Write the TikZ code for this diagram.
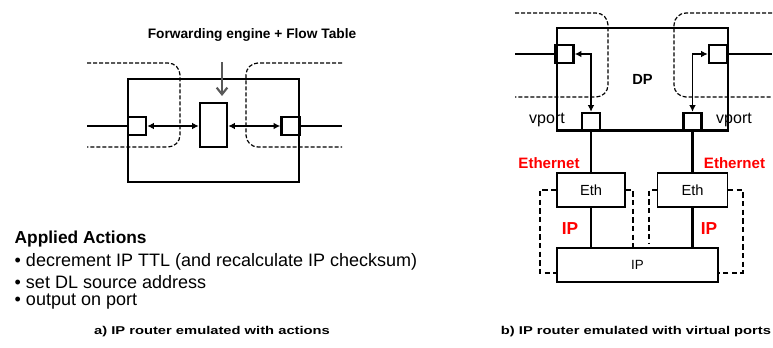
\documentclass[tikz,border=0pt]{standalone}
\usepackage{fontspec}
\setmainfont{Liberation Sans}
\newfontfamily\widefont[FakeStretch=1.3]{Liberation Sans}
\usepackage{xcolor}
\usetikzlibrary{arrows.meta,positioning}

\begin{document}
\begin{tikzpicture}[x=0.75pt, y=-0.75pt,
  every node/.style={font=\small},
  box/.style={draw, line width=0.8pt, inner sep=0pt},
  port/.style={draw, line width=1.8pt, minimum size=13.5pt, inner sep=0pt},
  link/.style={line width=2.2pt},
  dline/.style={dash pattern=on 3pt off 1.5pt, line width=0.9pt, rounded corners=9pt},
  tunnel/.style={dash pattern=on 4pt off 2.5pt, line width=1.5pt},
  rel/.style={{Latex[length=5pt,width=5pt]}-{Latex[length=5pt,width=5pt]}, line width=1pt},
  redlbl/.style={font=\bfseries\fontsize{11.3}{13}\selectfont, text=red},
  caption/.style={font=\widefont\bfseries\fontsize{8.5}{10}\selectfont},
  item/.style={anchor=west, font=\fontsize{13.5}{16}\selectfont}
]
\useasboundingbox (0,0) rectangle (773,347);

% a) router with actions
\node[font=\bfseries\fontsize{10.3}{12}\selectfont] (fetitle) at (252,35) {Forwarding engine + Flow Table};
\node[box, minimum width=128.25pt, minimum height=77.25pt] (router) at (213.5,130.5) {};
\node[port] (pl) at (137,126) {};
\node[port] (pr) at (290.5,126) {};
\node[draw, line width=1.8pt, minimum width=20.25pt, minimum height=33pt, inner sep=0pt] (fe) at (213.5,125) {};
\coordinate (fein) at (222,62);
\coordinate (feto) at (222,96);
\coordinate (inl) at (87,126);
\coordinate (outr) at (342,126);

\draw[-{Straight Barb[length=5pt,width=8pt]}, black!65, line width=1.6pt] (fein) -- (feto);
\draw[link] (inl) -- (pl);
\draw[link] (pr) -- (outr);
\draw[rel] (pl.east) -- (pl.east -| fe.west);
\draw[rel] (fe.east |- pr.west) -- (pr.west);

% flow paths
\draw[dline] (87,63) -- (180,63) -- (180,147) -- (87,147);
\draw[dline] (342,63) -- (246,63) -- (246,147) -- (342,147);

% actions
\node[item, font=\bfseries\fontsize{13}{15}\selectfont] (actions) at (10,239) {Applied Actions};
\node[item] (act1) at (10,262) {• decrement IP TTL (and recalculate IP checksum)};
\node[item] (act2) at (10,282) {• set DL source address};
\node[item] (act3) at (10,302) {• output on port};

\node[caption] (capa) at (212,332) {a) IP router emulated with actions};

% b) router with virtual ports
\node[box, minimum width=128.25pt, minimum height=76.5pt, font=\bfseries\fontsize{11}{13}\selectfont] (dp) at (642.5,79) {DP};
\draw[line width=2pt] (dp.south west) -- (dp.south east);
\node[port] (pul) at (564.5,54) {};
\node[port] (pur) at (718,54) {};
\node[port, minimum height=12.75pt] (vl) at (591,121.5) {};
\node[port, minimum height=12.75pt] (vr) at (692.5,121.5) {};
\node[font=\fontsize{12}{14}\selectfont] (vlbl) at (547,120) {vport};
\node[font=\fontsize{12}{14}\selectfont] (vrbl) at (734,120) {vport};
\coordinate (inr) at (515,54);
\coordinate (outrr) at (772,54);

\draw[line width=1.2pt] (inr) -- (pul);
\draw[line width=1.2pt] (pur) -- (outrr);
\draw[rel] (pul.east) -| (vl.north);
\draw[rel] (pur.west) -| (vr.north);

% flow paths
\draw[dline] (515,13) -- (608,13) -- (608,97) -- (515,97);
\draw[dline] (772,13) -- (674,13) -- (674,97) -- (772,97);

% stack
\node[box, minimum width=51pt, minimum height=25.5pt, font=\fontsize{11}{13}\selectfont] (ethl) at (591,190) {Eth};
\node[box, minimum width=52.5pt, minimum height=25.5pt, font=\fontsize{11}{13}\selectfont] (ethr) at (692.5,190) {Eth};
\node[box, minimum width=120.75pt, minimum height=25.5pt, font=\fontsize{10}{12}\selectfont] (ip) at (637.5,265) {IP};

\draw[line width=2pt] (vl) -- (ethl);
\draw[line width=2pt] (vr) -- (ethr);
\draw[line width=2pt] (ethl) -- (ethl |- ip.north);
\draw[line width=2pt] (ethr) -- (ethr |- ip.north);

\node[redlbl] (ethlbl) at (549,163) {Ethernet};
\node[redlbl] (ethrbl) at (734.5,163) {Ethernet};
\node[redlbl, font=\bfseries\fontsize{13}{15}\selectfont] (iplbl) at (570,229) {IP};
\node[redlbl, font=\bfseries\fontsize{13}{15}\selectfont] (iprbl) at (709,229) {IP};

% tunnels
\draw[tunnel] (ethl.west) -- (540,190) -- (540,273) -- (ip.west |- 0,273);
\draw[tunnel] (ethl.east) -- (633,190) -- (633,248);
\draw[tunnel] (ethr.west) -- (649,190) -- (649,243);
\draw[tunnel] (ethr.east) -- (743,190) -- (743,273) -- (ip.east |- 0,273);

\node[caption] (capb) at (636,332) {b) IP router emulated with virtual ports};
\end{tikzpicture}
\end{document}
